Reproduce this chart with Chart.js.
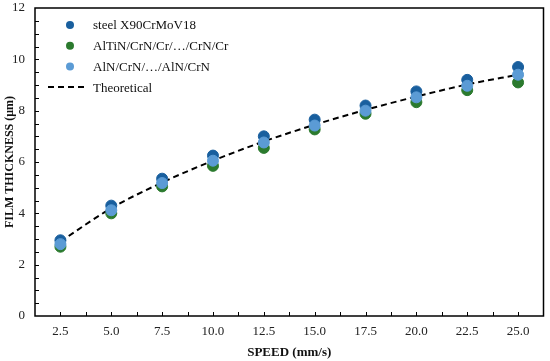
<!DOCTYPE html>
<html>
<head>
<meta charset="utf-8">
<script src="https://cdn.jsdelivr.net/npm/chart.js@4"></script>
<style>
  body { margin: 0; background: #fff; }
  #wrap { width: 550px; height: 361px; }
</style>
</head>
<body>
<div id="wrap"><canvas id="film-chart" width="550" height="361"></canvas></div>
<script>
// speed values (mm/s) and measured film thickness (um)
const speeds = [2.5, 5.0, 7.5, 10.0, 12.5, 15.0, 17.5, 20.0, 22.5, 25.0];
const steelX90 = [2.95, 4.3, 5.35, 6.25, 7.0, 7.65, 8.2, 8.75, 9.2, 9.7];
const altinCoat = [2.7, 4.0, 5.05, 5.85, 6.55, 7.27, 7.88, 8.33, 8.8, 9.1];
const alnCoat = [2.8, 4.12, 5.18, 6.05, 6.76, 7.42, 8.0, 8.52, 8.97, 9.4];
const theoretical = [2.9, 4.2, 5.2, 6.05, 6.8, 7.45, 8.03, 8.55, 9.02, 9.4];

const seriesLabels = ['steel X90CrMoV18', 'AlTiN/CrN/Cr/\u2026/CrN/Cr', 'AlN/CrN/\u2026/AlN/CrN', 'Theoretical'];
const seriesColors = ['#195f9e', '#2b7a2e', '#5b9bd5', '#000000'];

const xTicks = [2.5, 5.0, 7.5, 10.0, 12.5, 15.0, 17.5, 20.0, 22.5, 25.0];
const yTicks = [0, 2, 4, 6, 8, 10, 12];

const serif = '"Liberation Serif", "Times New Roman", serif';

function toPoints(vals) {
    return vals.map((v, i) => ({ x: speeds[i], y: v }));
}

// box, inward ticks and legend drawn on top of the chart
const framePlugin = {
    id: 'frame',
    afterDraw(chart) {
        const ctx = chart.ctx;
        const a = chart.chartArea;
        const xs = chart.scales.x;
        const ys = chart.scales.y;
        ctx.save();
        ctx.strokeStyle = '#000';
        ctx.lineWidth = 1.5;
        ctx.strokeRect(a.left, a.top, a.right - a.left, a.bottom - a.top);

        ctx.lineWidth = 1;
        ctx.beginPath();
        for (let v = 0.5; v < 12; v += 0.5) {
            const py = Math.round(ys.getPixelForValue(v)) + 0.5;
            ctx.moveTo(a.left, py);
            ctx.lineTo(a.left + 4, py);
        }
        for (let v = 2.5; v < 26; v += 1.25) {
            const px = Math.round(xs.getPixelForValue(v)) + 0.5;
            ctx.moveTo(px, a.bottom);
            ctx.lineTo(px, a.bottom - 4);
        }
        ctx.stroke();

        // legend
        ctx.font = '13px ' + serif;
        ctx.textBaseline = 'middle';
        chart.data.datasets.forEach((ds, i) => {
            const ly = 25 + i * 20.7;
            if (ds.showLine) {
                ctx.strokeStyle = '#000';
                ctx.lineWidth = 2;
                ctx.setLineDash([6, 4]);
                ctx.beginPath();
                ctx.moveTo(48, ly);
                ctx.lineTo(88, ly);
                ctx.stroke();
                ctx.setLineDash([]);
            } else {
                ctx.fillStyle = ds.backgroundColor;
                ctx.beginPath();
                ctx.arc(70, ly, 4, 0, Math.PI * 2);
                ctx.fill();
            }
            ctx.fillStyle = '#111';
            ctx.fillText(ds.label, 93, ly + 1);
        });
        ctx.restore();
    }
};

const ctx = document.getElementById('film-chart').getContext('2d');
new Chart(ctx, {
    type: 'scatter',
    data: {
        datasets: [
            {
                label: seriesLabels[0],
                data: toPoints(steelX90),
                backgroundColor: seriesColors[0],
                borderColor: seriesColors[0],
                pointRadius: 5.5,
                order: 1
            },
            {
                label: seriesLabels[1],
                data: toPoints(altinCoat),
                backgroundColor: seriesColors[1],
                borderColor: seriesColors[1],
                pointRadius: 5.5,
                order: 2
            },
            {
                label: seriesLabels[2],
                data: toPoints(alnCoat),
                backgroundColor: seriesColors[2],
                borderColor: seriesColors[2],
                pointRadius: 5.5,
                order: 0
            },
            {
                label: seriesLabels[3],
                data: toPoints(theoretical),
                showLine: true,
                borderColor: seriesColors[3],
                borderWidth: 2,
                borderDash: [6, 4],
                pointRadius: 0,
                cubicInterpolationMode: 'monotone',
                order: 3
            }
        ]
    },
    options: {
        responsive: false,
        animation: false,
        layout: { padding: { left: 0, right: 5, top: 8, bottom: 0 } },
        scales: {
            x: {
                type: 'linear',
                min: 1.25,
                max: 26.25,
                afterBuildTicks: scale => { scale.ticks = xTicks.map(v => ({ value: v })); },
                afterFit: scale => {
                    scale.height = 45;
                    scale.paddingLeft = 0;
                    scale.paddingRight = 0;
                },
                grid: { display: false, drawTicks: false },
                border: { display: false },
                ticks: {
                    padding: 8,
                    color: '#222',
                    font: { family: serif, size: 13 },
                    callback: v => Number(v).toFixed(1)
                },
                title: {
                    display: true,
                    text: 'SPEED (mm/s)',
                    color: '#111',
                    padding: { top: 2, bottom: 1 },
                    font: { family: serif, size: 13, weight: 'bold' }
                }
            },
            y: {
                min: 0,
                max: 12,
                afterBuildTicks: scale => { scale.ticks = yTicks.map(v => ({ value: v })); },
                afterFit: scale => {
                    scale.width = 35;
                    scale.paddingTop = 0;
                    scale.paddingBottom = 0;
                },
                grid: { display: false, drawTicks: false },
                border: { display: false },
                ticks: {
                    padding: 10,
                    color: '#222',
                    font: { family: serif, size: 13 }
                },
                title: {
                    display: true,
                    text: 'FILM THICKNESS (\u03bcm)',
                    color: '#111',
                    padding: { top: 3, bottom: 0 },
                    font: { family: serif, size: 12, weight: 'bold' }
                }
            }
        },
        plugins: {
            legend: { display: false },
            tooltip: { enabled: false }
        }
    },
    plugins: [framePlugin]
});
</script>
</body>
</html>
